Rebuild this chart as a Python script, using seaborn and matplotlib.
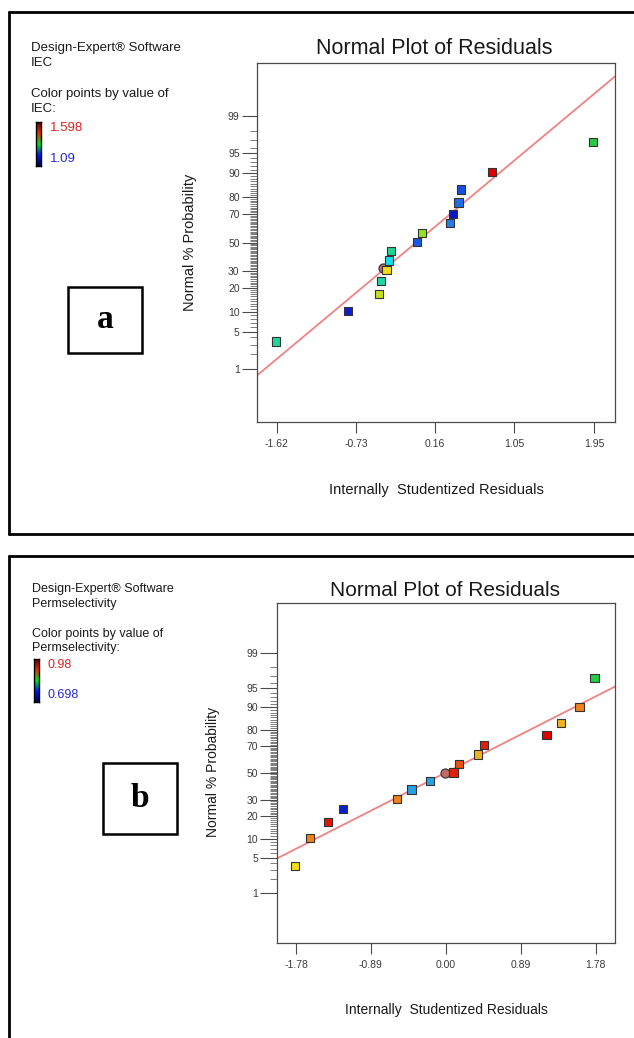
import numpy as np
import pandas as pd
import matplotlib
matplotlib.use("Agg")
import matplotlib.pyplot as plt
import seaborn as sns
from matplotlib.colors import LinearSegmentedColormap
from matplotlib.lines import Line2D
from matplotlib.patches import Rectangle
from statistics import NormalDist

# ---------------- data ----------------
# Panel a : IEC
a_resid = [1.933, 0.796, 0.449, 0.423, 0.359, 0.328, 0.014, -0.042, -0.340, -0.356, -0.386, -0.450, -0.475, -0.823, -1.628]
a_prob = [96.8, 90.3, 83.5, 77.0, 70.0, 64.0, 57.0, 50.4, 44.0, 37.0, 30.5, 23.8, 17.0, 10.3, 3.4]
a_value = [1.344, 1.598, 1.141, 1.166, 1.090, 1.181, 1.420, 1.151, 1.303, 1.227, 1.471, 1.293, 1.446, 1.100, 1.293]
a_circle_resid = [-0.424]
a_circle_prob = [31.6]
a_value_range = [1.09, 1.598]
a_xticks = [-1.62, -0.73, 0.16, 1.05, 1.95]
a_xlim = [-1.844, 2.182]
a_fit_center = -0.054
a_fit_slope = 1.369

# Panel b : Permselectivity
b_resid = [1.766, 1.588, 1.370, 1.196, 0.451, 0.380, 0.158, 0.091, -0.187, -0.408, -0.580, -1.220, -1.397, -1.615, -1.790]
b_prob = [96.8, 90.0, 83.6, 77.0, 70.5, 64.0, 57.0, 50.5, 43.8, 37.3, 30.6, 24.0, 17.1, 10.4, 3.5]
b_value = [0.839, 0.946, 0.929, 0.980, 0.972, 0.929, 0.960, 0.972, 0.760, 0.760, 0.946, 0.704, 0.974, 0.946, 0.910]
b_circle_resid = [-0.016]
b_circle_prob = [50.0]
b_value_range = [0.698, 0.98]
b_xticks = [-1.78, -0.89, 0.00, 0.89, 1.78]
b_xlim = [-2.006, 2.009]
b_fit_center = -0.010
b_fit_slope = 0.833

prob_major = [1, 5, 10, 20, 30, 50, 70, 80, 90, 95, 99]
prob_minor = [p for p in range(1, 100) if p not in prob_major]
prob_lim = [0.047, 99.953]

# ---------------- style ----------------
sns.set_style("white")
plt.rcParams['font.family'] = ['Liberation Sans', 'DejaVu Sans']

W, H = 634, 1038
fig = plt.figure(figsize=(W / 100, H / 100), dpi=100)


def fx(px):
    return px / W


def fy(py):
    return 1 - py / H


def axrect(l, t, r, b):
    return [l / W, 1 - b / H, (r - l) / W, (b - t) / H]


nd = NormalDist()
_ppf = np.vectorize(lambda p: nd.inv_cdf(min(max(p / 100.0, 1e-12), 1 - 1e-12)), otypes=[float])
_cdf = np.vectorize(lambda z: nd.cdf(z) * 100.0, otypes=[float])


def fwd(a):
    return _ppf(np.asarray(a, float))


def inv(a):
    return _cdf(np.asarray(a, float))


pt_cmap = LinearSegmentedColormap.from_list(
    "de_points",
    [(0.0, "#0a14c8"), (0.12, "#1a5ae6"), (0.2, "#2a8ce8"), (0.27, "#18dce6"),
     (0.4, "#20d6a0"), (0.5, "#22cc44"), (0.65, "#96e020"), (0.75, "#f2e018"),
     (0.85, "#f0a020"), (0.9, "#f07018"), (1.0, "#e00000")])
bar_cmap = LinearSegmentedColormap.from_list(
    "de_bar", ["#000050", "#0018f0", "#00e020", "#e03000", "#600000"])

spine_col = "#4a4a4a"
text_col = "#1a1a1a"


def panel(rect, resid, prob, value, vrange, cres, cprob, xlim, xticks,
          center, slope, ytick_len):
    ax = fig.add_axes(rect)
    xs = np.array(xlim)
    line = pd.DataFrame({"r": xs, "p": inv(slope * (xs - center))})
    sns.lineplot(data=line, x="r", y="p", ax=ax, color="#f08282", lw=1.3,
                 sort=False, estimator=None, zorder=2)
    sns.scatterplot(x=cres, y=cprob, ax=ax, marker="o", s=42, color="#c46a66",
                    edgecolor="#3a3a3a", linewidth=0.9, zorder=3, legend=False)
    df = pd.DataFrame({"r": resid, "p": prob, "v": value})
    sns.scatterplot(data=df, x="r", y="p", hue="v", palette=pt_cmap,
                    hue_norm=tuple(vrange), marker="s", s=36,
                    edgecolor="#333333", linewidth=0.8, legend=False, ax=ax,
                    zorder=4)
    ax.set_yscale("function", functions=(fwd, inv))
    ax.set_ylim(*prob_lim)
    ax.set_xlim(*xlim)
    ax.set_xticks(xticks)
    ax.set_xticklabels([f"{t:.2f}" for t in xticks])
    ax.set_yticks(prob_major)
    ax.set_yticklabels([str(p) for p in prob_major])
    ax.set_yticks(prob_minor, minor=True)
    ax.set_xlabel("")
    ax.set_ylabel("")
    for s in ax.spines.values():
        s.set_visible(True)
        s.set_color(spine_col)
        s.set_linewidth(0.9)
    ax.tick_params(axis="y", which="major", direction="out", length=ytick_len,
                   width=0.8, color=spine_col, labelsize=7.5,
                   labelcolor="#3a3a3a", pad=1.5, left=True)
    ax.tick_params(axis="y", which="minor", direction="out", length=5,
                   width=0.5, color=spine_col, left=True)
    ax.tick_params(axis="x", which="major", direction="out", length=8,
                   width=0.8, color=spine_col, labelsize=7.5,
                   labelcolor="#3a3a3a", pad=4, bottom=True)
    ax.tick_params(axis="x", which="minor", bottom=False)
    ax.grid(False)
    return ax


def legend_block(x, y_top, lh, resp_name, hi, lo, bar_rect, fs):
    fig.text(fx(x), fy(y_top), "Design-Expert® Software", fontsize=fs,
             color=text_col, va="center", ha="left")
    fig.text(fx(x), fy(y_top + lh), resp_name, fontsize=fs, color=text_col,
             va="center", ha="left")
    fig.text(fx(x), fy(y_top + 3.1 * lh), "Color points by value of",
             fontsize=fs, color=text_col, va="center", ha="left")
    fig.text(fx(x), fy(y_top + 4.1 * lh), resp_name + ":", fontsize=fs,
             color=text_col, va="center", ha="left")
    bl, bt, br, bb = bar_rect
    cax = fig.add_axes(axrect(bl, bt, br, bb))
    grad = np.linspace(0, 1, 256).reshape(-1, 1)
    cax.imshow(grad, aspect="auto", cmap=bar_cmap, origin="lower")
    cax.set_xticks([])
    cax.set_yticks([])
    for s in cax.spines.values():
        s.set_visible(True)
        s.set_color("#000000")
        s.set_linewidth(1.0)
    fig.text(fx(br + 9), fy(bt + 6), hi, fontsize=fs, color="#e02020",
             va="center", ha="left")
    fig.text(fx(br + 9), fy(bb - 7), lo, fontsize=fs, color="#2828d8",
             va="center", ha="left")


def frame(top, bottom, left=9):
    lw = 2.0
    fig.add_artist(Line2D([fx(left), fx(left)], [fy(top), fy(bottom)],
                          color="black", lw=lw, transform=fig.transFigure))
    fig.add_artist(Line2D([fx(left), 1.02], [fy(top), fy(top)],
                          color="black", lw=lw, transform=fig.transFigure))
    if bottom <= H:
        fig.add_artist(Line2D([fx(left), 1.02], [fy(bottom), fy(bottom)],
                              color="black", lw=lw, transform=fig.transFigure))


def letter_box(l, t, r, b, letter):
    fig.add_artist(Rectangle((fx(l), fy(b)), (r - l) / W, (b - t) / H,
                             fill=False, edgecolor="black", lw=1.8,
                             transform=fig.transFigure))
    fig.text(fx((l + r) / 2), fy((t + b) / 2), letter, fontsize=24,
             fontweight="bold", family=["Liberation Serif", "DejaVu Serif"],
             ha="center", va="center", color="black")


# ---------------- panel a ----------------
frame(12, 534)
ax_a = panel(axrect(257, 63, 615, 422), a_resid, a_prob, a_value,
             a_value_range, a_circle_resid, a_circle_prob, a_xlim, a_xticks,
             a_fit_center, a_fit_slope, 11)
fig.text(fx(434), fy(48), "Normal Plot of Residuals", fontsize=15.5,
         color=text_col, ha="center", va="center")
fig.text(fx(436), fy(490), "Internally  Studentized Residuals", fontsize=10.5,
         color=text_col, ha="center", va="center")
fig.text(fx(190), fy(242), "Normal % Probability", fontsize=10.5,
         color=text_col, ha="center", va="center", rotation=90)
legend_block(31, 48, 15, "IEC", "1.598", "1.09", (36, 122, 41, 166), 9.5)
letter_box(68, 287, 142, 353, "a")

# ---------------- panel b ----------------
frame(556, H + 20)
ax_b = panel(axrect(277, 603, 615, 943), b_resid, b_prob, b_value,
             b_value_range, b_circle_resid, b_circle_prob, b_xlim, b_xticks,
             b_fit_center, b_fit_slope, 12)
fig.text(fx(445), fy(591), "Normal Plot of Residuals", fontsize=15,
         color=text_col, ha="center", va="center")
fig.text(fx(446), fy(1010), "Internally  Studentized Residuals", fontsize=10,
         color=text_col, ha="center", va="center")
fig.text(fx(213), fy(772), "Normal % Probability", fontsize=10,
         color=text_col, ha="center", va="center", rotation=90)
legend_block(32, 589, 14.5, "Permselectivity", "0.98", "0.698",
             (34, 659, 39, 702), 9)
letter_box(103, 763, 177, 834, "b")

fig.savefig("out.png", dpi=100)
